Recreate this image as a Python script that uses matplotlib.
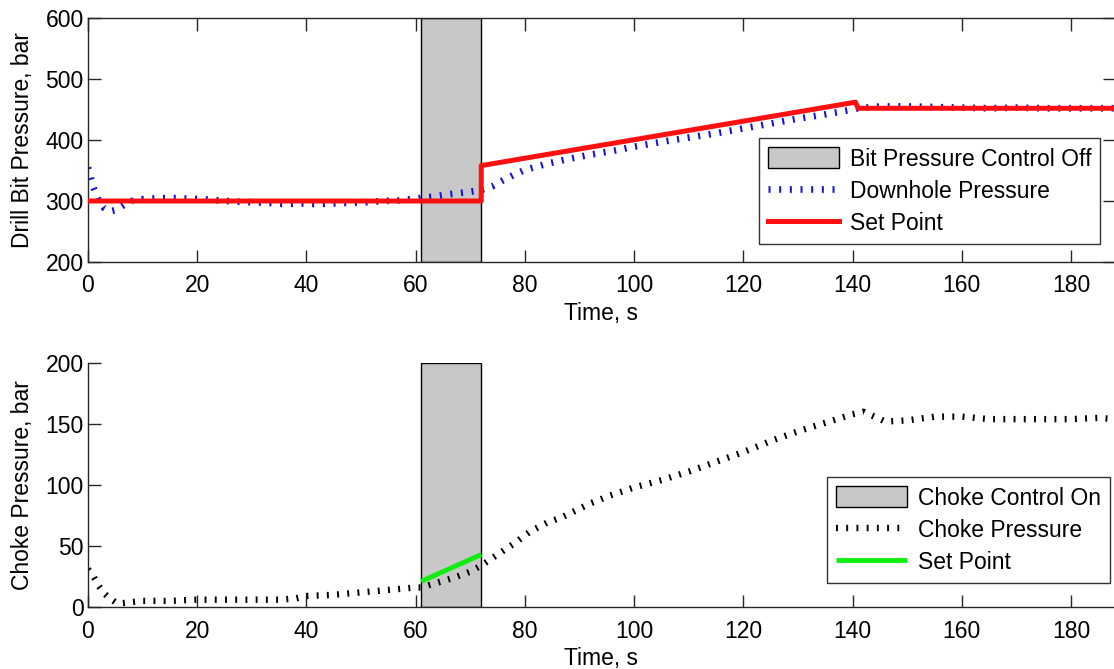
import matplotlib
matplotlib.use('Agg')
import matplotlib.pyplot as plt

plt.rcParams['font.family'] = ['Liberation Sans', 'DejaVu Sans']

# shaded control window
shade = [61, 72]

# top panel: drill bit pressure
dh_t = [0, 0.5, 1, 2, 3, 4, 5, 6, 7, 8, 10, 12, 15, 18, 21, 24, 27, 30, 33, 36, 39,
        42, 45, 48, 51, 54, 57, 60, 63, 66, 69, 72, 74, 76, 78, 80, 84, 88, 92, 96,
        100, 105, 110, 115, 120, 125, 130, 135, 140, 141, 145, 150, 155, 160, 165,
        170, 175, 180, 185, 188]
dh_p = [355, 338, 322, 300, 288, 283, 285, 290, 296, 300, 303, 304, 305, 304, 303,
        301, 299, 298, 297, 295, 296, 295, 296, 297, 298, 300, 301, 304, 307, 311,
        314, 318, 324, 334, 343, 351, 361, 369, 376, 382, 389, 397, 404, 411, 419,
        427, 435, 442, 450, 452, 455, 455, 454, 453, 452, 453, 452, 452, 452, 452]

sp_t = [0, 72, 72, 140.5, 141, 188]
sp_p = [300, 300, 358, 462, 452, 452]

# bottom panel: choke pressure
ch_t = [0, 1, 2, 3, 4, 5, 6, 8, 10, 15, 20, 25, 30, 35, 38, 40, 45, 50, 55, 60, 61,
        64, 67, 70, 72, 74, 76, 78, 81, 84, 87, 92, 96, 100, 105, 110, 115, 120, 125,
        130, 135, 140, 142, 144, 146, 150, 155, 160, 165, 170, 175, 180, 185, 188]
ch_p = [31, 25, 17, 11, 7, 4, 3, 4, 5, 5, 6, 6, 6, 6, 7, 9, 10, 12, 14, 16, 16,
        20, 24, 29, 34, 40, 46, 52, 62, 69, 74, 85, 92, 98, 104, 111, 119, 127, 136,
        144, 151, 158, 160, 156, 152, 153, 156, 156, 154, 154, 154, 154, 155, 154]

csp_t = [61, 72]
csp_p = [21, 43]

W, H = 1114, 669
fig = plt.figure(figsize=(W / 100, H / 100), dpi=100)

x0 = 88 / W
xmax = 188
aw = (xmax * 5.4617) / W
ax1 = fig.add_axes([x0, 1 - 262 / H, aw, 244 / H])
ax2 = fig.add_axes([x0, 1 - 607 / H, aw, 244 / H])

fs = 16.5
tick_dash = (0, (0.3, 1.3))
leg_kw = dict(fontsize=fs, frameon=True, fancybox=False, edgecolor='black',
              handlelength=3.1, handleheight=1.05, borderpad=0.4, labelspacing=0.38,
              handletextpad=0.45, borderaxespad=0)

for ax in (ax1, ax2):
    ax.set_xlim(0, xmax)
    ax.set_xticks(range(0, 181, 20))
    ax.tick_params(direction='in', length=9, width=1, labelsize=fs, pad=3, colors='#262626',
                   labelcolor='black')
    ax.tick_params(axis='x', pad=9)
    for s in ax.spines.values():
        s.set_color('#262626')
        s.set_linewidth(1)
    ax.set_xlabel('Time, s', fontsize=fs, labelpad=3)

# top
ax1.axvspan(shade[0], shade[1], facecolor='#c8c8c8', edgecolor='black', lw=1,
            label='Bit Pressure Control Off', zorder=1)
ax1.plot(dh_t, dh_p, color='#1010e0', lw=4.8, linestyle=tick_dash,
         dash_capstyle='butt', label='Downhole Pressure', zorder=2)
ax1.plot(sp_t, sp_p, color='#ff1010', lw=3.6, label='Set Point', zorder=3)
ax1.set_ylim(200, 600)
ax1.set_yticks([200, 300, 400, 500, 600])
ax1.tick_params(top=True, right=True)
ax1.set_ylabel('Drill Bit Pressure, bar', fontsize=fs, labelpad=8)
leg1 = ax1.legend(loc='upper left', bbox_to_anchor=((759 - 88) / (aw * W), 1 - (138 - 18) / 244),
                  **leg_kw)
leg1.get_frame().set_linewidth(1)

# bottom
ax2.axvspan(shade[0], shade[1], facecolor='#c8c8c8', edgecolor='black', lw=1,
            label='Choke Control On', zorder=1)
ax2.plot(ch_t, ch_p, color='black', lw=4.6, linestyle=tick_dash,
         dash_capstyle='butt', label='Choke Pressure', zorder=2)
ax2.plot(csp_t, csp_p, color='#10ee10', lw=3.5, label='Set Point', zorder=3,
         solid_capstyle='butt')
ax2.set_ylim(0, 200)
ax2.set_yticks([0, 50, 100, 150, 200])
ax2.spines['top'].set_visible(False)
ax2.spines['right'].set_visible(False)
ax2.set_ylabel('Choke Pressure, bar', fontsize=fs, labelpad=8)
leg2 = ax2.legend(loc='upper left', bbox_to_anchor=((827 - 88) / (aw * W), 1 - (477 - 363) / 244),
                  **leg_kw)
leg2.get_frame().set_linewidth(1)

fig.savefig('out.png', dpi=100)
